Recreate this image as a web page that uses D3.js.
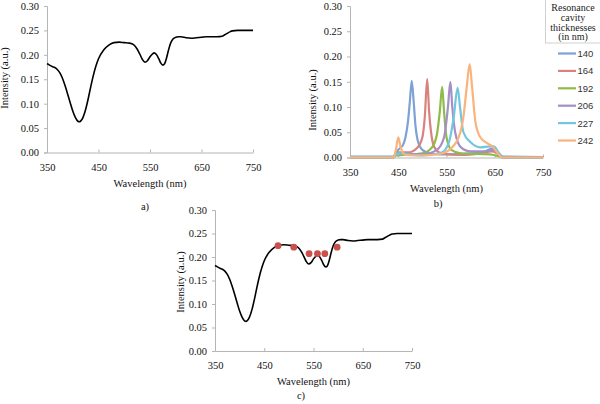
<!DOCTYPE html>
<html><head><meta charset="utf-8">
<script src="https://cdn.jsdelivr.net/npm/d3@7"></script>
<style>body{margin:0;background:#fff}svg{display:block}
text.s{font-family:"Liberation Serif","Times New Roman",Times,serif}
text.ss{font-family:"Liberation Sans",Arial,sans-serif}
</style>
</head><body>
<svg id="c" width="600" height="404"></svg>
<script>
// ---- data ----
const xTicks = [350, 450, 550, 650, 750];
const yTicks = [0, 0.05, 0.10, 0.15, 0.20, 0.25, 0.30];

const specWl = [350,355,360,365,370,375,380,385,390,395,400,405,410,413,415,420,425,430,435,440,445,450,460,470,480,490,500,510,518,525,530,535,540,545,550,555,558,562,567,571,575,578,582,586,590,595,600,605,610,620,630,640,650,660,670,680,690,695,700,705,710,720,730,740,750];
const specI  = [0.182,0.179,0.176,0.174,0.170,0.163,0.152,0.137,0.120,0.102,0.085,0.072,0.064,0.063,0.064,0.072,0.088,0.110,0.135,0.158,0.177,0.192,0.210,0.220,0.225,0.226,0.225,0.224,0.221,0.212,0.202,0.191,0.185,0.188,0.196,0.202,0.204,0.201,0.192,0.183,0.179,0.181,0.193,0.210,0.224,0.233,0.236,0.237,0.237,0.235,0.234,0.235,0.236,0.237,0.237,0.237,0.238,0.241,0.244,0.247,0.249,0.250,0.250,0.250,0.250];

const seriesNames = ["140","164","192","206","227","242"];
const seriesColors = ["#7ca2d6","#d8837f","#8fbb4a","#a48fc6","#72c6de","#fbb37c"];
const s140wl = [350,440,445,450,460,465,470,474,478,482,486,490,500,520,550,600,630,645,655,665,750];
const s140v  = [0.002,0.002,0.008,0.015,0.025,0.040,0.070,0.110,0.152,0.110,0.060,0.035,0.015,0.007,0.006,0.008,0.012,0.018,0.012,0.002,0.001];
const s164wl = [350,440,445,450,470,490,500,505,510,514,518,525,540,580,620,645,660,670,750];
const s164v  = [0.000,0.001,0.006,0.010,0.010,0.020,0.040,0.080,0.155,0.090,0.050,0.020,0.008,0.005,0.008,0.012,0.005,0.000,0.000];
const s192wl = [350,440,445,460,500,520,530,536,541,545,550,560,580,640,660,670,750];
const s192v  = [0.000,0.000,0.004,0.005,0.008,0.020,0.045,0.090,0.140,0.090,0.040,0.015,0.008,0.006,0.002,0.000,0.000];
const s206wl = [350,440,445,455,500,530,545,553,558,562,568,580,600,630,645,655,665,750];
const s206v  = [0.000,0.000,0.010,0.008,0.006,0.015,0.040,0.100,0.150,0.100,0.050,0.020,0.012,0.012,0.015,0.010,0.000,0.000];
const s227wl = [350,440,445,450,500,540,555,565,573,578,585,600,620,640,648,658,668,750];
const s227v  = [0.001,0.001,0.006,0.008,0.004,0.010,0.030,0.080,0.138,0.100,0.050,0.030,0.020,0.022,0.022,0.010,0.000,0.000];
const s242wl = [350,440,445,450,455,465,500,540,570,585,592,598,603,610,620,635,645,655,665,750];
const s242v  = [0.000,0.000,0.015,0.040,0.020,0.005,0.004,0.008,0.030,0.080,0.140,0.185,0.140,0.070,0.040,0.028,0.022,0.010,0.000,0.000];
const seriesWl = [s140wl,s164wl,s192wl,s206wl,s227wl,s242wl];
const seriesV  = [s140v,s164v,s192v,s206v,s227v,s242v];

const markerWl = [478,510,541,558,573,598];
const markerI  = [0.224,0.221,0.207,0.207,0.207,0.221];

// ---- drawing ----
const svg = d3.select("#c");

function panel(o){
  const x = d3.scaleLinear().domain([350,750]).range([o.x0,o.x1]);
  const y = d3.scaleLinear().domain([0,0.30]).range([o.y0,o.y1]);
  const g = svg.append("g");
  const xa = g.append("g").attr("transform",`translate(0,${o.y0})`)
    .call(d3.axisBottom(x).tickValues(xTicks).tickSize(0).tickPadding(11).tickFormat(d3.format("d")));
  const ya = g.append("g").attr("transform",`translate(${o.x0},0)`)
    .call(d3.axisLeft(y).tickValues(yTicks).tickSize(3).tickPadding(5).tickFormat(d3.format(".2f")));
  [xa,ya].forEach(a=>{
    a.attr("font-family",null).attr("font-size",null);
    a.select(".domain").attr("stroke","#b5b5b5");
    a.selectAll(".tick line").attr("stroke","#b5b5b5");
    a.selectAll("text").attr("class","s").attr("font-size",10.5).attr("fill","#111");
  });
  xa.selectAll(".tick").append("line").attr("y1",0).attr("y2",-3).attr("stroke","#b5b5b5");
  g.append("text").attr("class","s").attr("x",(o.x0+o.x1)/2).attr("y",o.y0+34).attr("text-anchor","middle")
    .attr("font-size",10.5).attr("fill","#111").text("Wavelength (nm)");
  g.append("text").attr("class","s").attr("transform",`translate(${o.ylx},${o.yly}) rotate(-90)`).attr("text-anchor","middle")
    .attr("font-size",10.5).attr("fill","#111").text("Intensity (a.u.)");
  g.append("text").attr("class","s").attr("x",o.capx).attr("y",o.capy).attr("text-anchor","middle")
    .attr("font-size",10.5).attr("fill","#111").text(o.cap);
  return {x,y,g};
}

function drawSpectrum(p){
  const line = d3.line().x(d=>p.x(d[0])).y(d=>p.y(d[1])).curve(d3.curveMonotoneX);
  p.g.append("path").datum(d3.zip(specWl,specI)).attr("d",line)
    .attr("fill","none").attr("stroke","#000").attr("stroke-width",1.6);
}

const pa = panel({x0:47,x1:253,y0:152.5,y1:6,ylx:8,yly:78,cap:"a)",capx:145,capy:210});
drawSpectrum(pa);

const pb = panel({x0:350,x1:543,y0:157.5,y1:6,ylx:316,yly:100,cap:"b)",capx:438,capy:207});
const lineB = d3.line().x(d=>pb.x(d[0])).y(d=>pb.y(d[1])).curve(d3.curveMonotoneX);
seriesNames.forEach((n,i)=>{
  pb.g.append("path").datum(d3.zip(seriesWl[i],seriesV[i])).attr("d",lineB)
    .attr("fill","none").attr("stroke",seriesColors[i]).attr("stroke-width",2.2);
});
const lg = svg.append("g");
lg.append("rect").attr("x",545.5).attr("y",-1).attr("width",60).attr("height",44)
  .attr("fill","#fff").attr("stroke","#d0d0d0");
["Resonance","cavity","thicknesses","(in nm)"].forEach((t,i)=>{
  lg.append("text").attr("class","s").attr("x",573).attr("y",11+i*9.8).attr("text-anchor","middle")
    .attr("font-size",10).attr("fill","#222").text(t);
});
seriesNames.forEach((n,i)=>{
  const yy = 53.5 + i*17.4;
  lg.append("line").attr("x1",558).attr("x2",576).attr("y1",yy).attr("y2",yy)
    .attr("stroke",seriesColors[i]).attr("stroke-width",2.2);
  lg.append("text").attr("class","ss").attr("x",577.5).attr("y",yy+3.5)
    .attr("font-size",9.5).attr("fill","#333").text(n);
});

const pc = panel({x0:215,x1:412,y0:351,y1:210,ylx:184,yly:282,cap:"c)",capx:301,capy:399});
drawSpectrum(pc);
pc.g.selectAll("circle.m").data(d3.zip(markerWl,markerI)).join("circle")
  .attr("cx",d=>pc.x(d[0])).attr("cy",d=>pc.y(d[1])).attr("r",3.4).attr("fill","#c9504c");
</script>
</body></html>
